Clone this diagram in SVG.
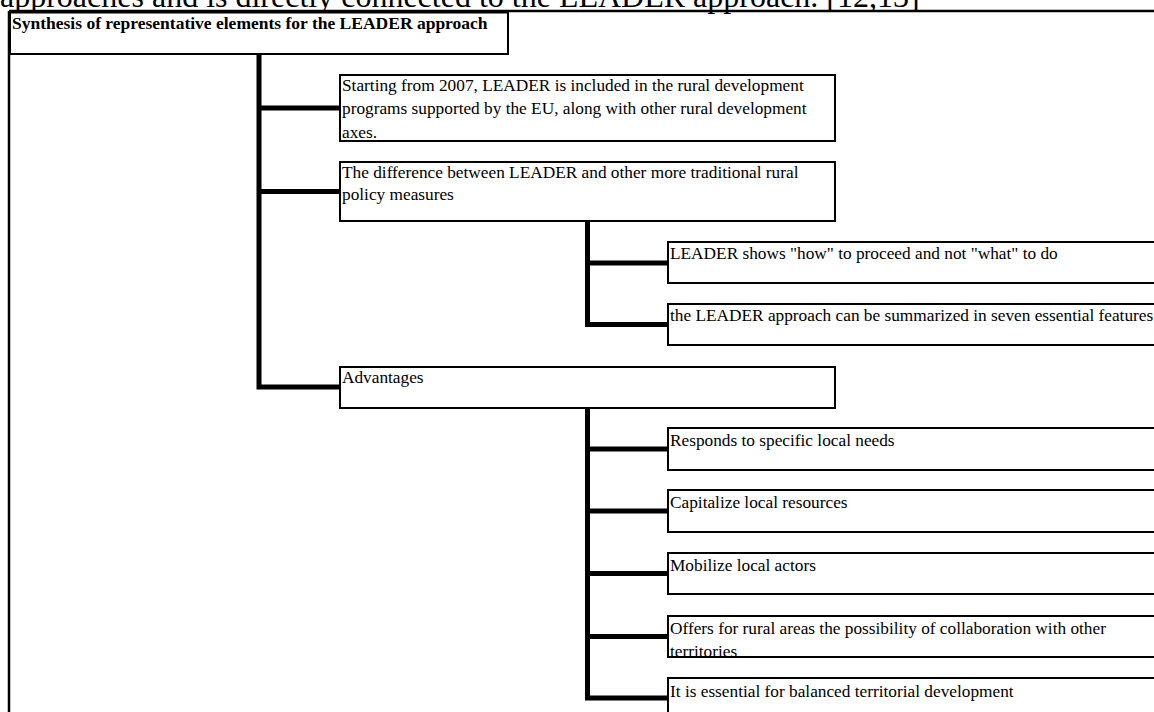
<svg xmlns="http://www.w3.org/2000/svg" width="1154" height="712" viewBox="0 0 1154 712">
<style>
.box{fill:#fff;stroke:#000;stroke-width:2}
.t{font-family:"Liberation Serif","Times New Roman",serif;font-size:17.3px;fill:#000}
.b{font-weight:bold;font-size:17.5px}
.c{fill:none;stroke:#000;stroke-width:5;stroke-linejoin:miter}
.f{fill:none;stroke:#000;stroke-width:2.5}
</style>
<rect width="1154" height="712" fill="#fff"/>
<text x="0" y="7" font-family="Liberation Serif, serif" font-size="32" fill="#000">approaches and is directly connected to the LEADER approach. [12,13]</text>
<g id="frame">
<path class="f" d="M9,11 H1154 M9,11 V712"/>
</g>
<g id="connectors">
<path class="c" d="M259,54 V387 H340 M259,108 H340 M259,191.5 H340"/>
<path class="c" d="M587.5,221 V324.5 H668 M587.5,263 H668"/>
<path class="c" d="M587.5,408 V698 H668 M587.5,449 H668 M587.5,511 H668 M587.5,573.5 H668 M587.5,636.5 H668"/>
</g>
<g id="root"><rect class="box" x="10" y="12.5" width="498" height="41.5"/><text class="t b" x="12" y="29">Synthesis of representative elements for the LEADER approach</text></g>
<g id="n1"><rect class="box" x="340" y="75" width="495" height="66"/><text class="t" x="342" y="91">Starting from 2007, LEADER is included in the rural development</text><text class="t" x="342" y="114">programs supported by the EU, along with other rural development</text><text class="t" x="342" y="138">axes.</text></g>
<g id="n2"><rect class="box" x="340" y="162" width="495" height="59"/><text class="t" x="342" y="178">The difference between LEADER and other more traditional rural</text><text class="t" x="342" y="200">policy measures</text></g>
<g id="n2a"><rect class="box" x="668" y="242" width="495" height="41"/><text class="t" x="670" y="259">LEADER shows "how" to proceed and not "what" to do</text></g>
<g id="n2b"><rect class="box" x="668" y="304" width="495" height="41"/><text class="t" x="670" y="321">the LEADER approach can be summarized in seven essential features</text></g>
<g id="n3"><rect class="box" x="340" y="367" width="495" height="41"/><text class="t" x="342" y="383">Advantages</text></g>
<g id="n3a"><rect class="box" x="668" y="428" width="495" height="42"/><text class="t" x="670" y="446">Responds to specific local needs</text></g>
<g id="n3b"><rect class="box" x="668" y="490" width="495" height="42"/><text class="t" x="670" y="508">Capitalize local resources</text></g>
<g id="n3c"><rect class="box" x="668" y="553" width="495" height="41"/><text class="t" x="670" y="571">Mobilize local actors</text></g>
<g id="n3d"><rect class="box" x="668" y="616" width="495" height="41"/><text class="t" x="670" y="634">Offers for rural areas the possibility of collaboration with other</text><text class="t" x="670" y="657">territories</text></g>
<g id="n3e"><rect class="box" x="668" y="678" width="495" height="41"/><text class="t" x="670" y="697">It is essential for balanced territorial development</text></g>
</svg>
